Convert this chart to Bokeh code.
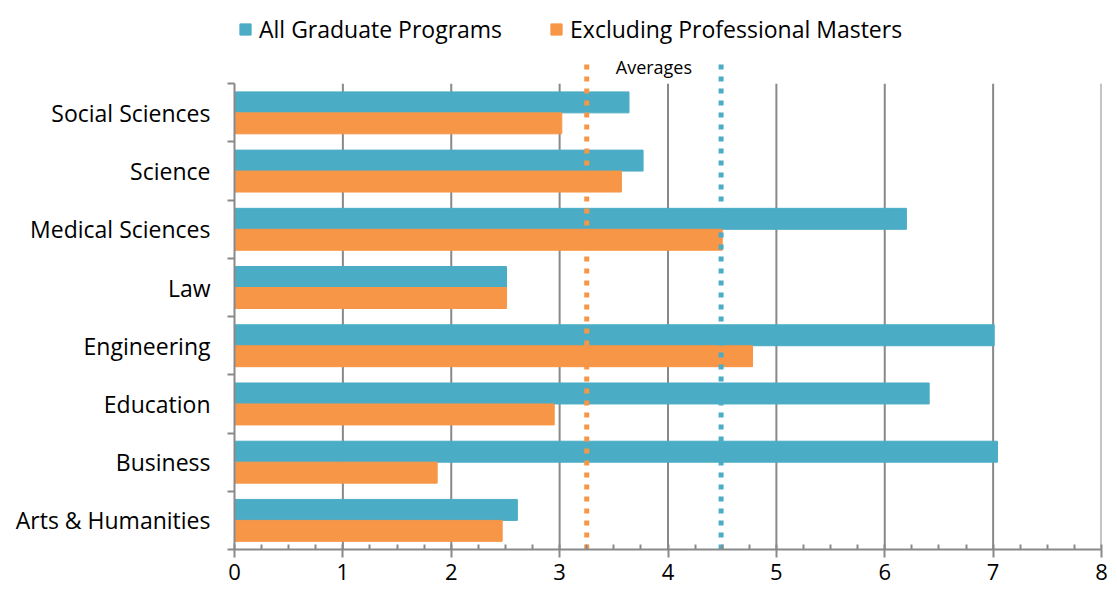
from bokeh.plotting import figure
from bokeh.models import (ColumnDataSource, FixedTicker, Legend, LegendItem, Label, Range1d)
from bokeh.embed import file_html
from bokeh.resources import INLINE

categories = ["Arts & Humanities", "Business", "Education", "Engineering",
              "Law", "Medical Sciences", "Science", "Social Sciences"]
all_graduate = [2.61, 7.04, 6.41, 7.01, 2.51, 6.20, 3.77, 3.64]
excluding_pm = [2.47, 1.87, 2.95, 4.78, 2.51, 4.50, 3.57, 3.02]
avg_all_graduate = 4.49
avg_excluding_pm = 3.25
x_ticks = [0, 1, 2, 3, 4, 5, 6, 7, 8]
series_names = ["All Graduate Programs", "Excluding Professional Masters"]

BLUE = "#4BACC6"
ORANGE = "#F79646"
GRAY = "#898989"
FONT = "Open Sans"

n = len(categories)
centers = [i + 0.5 for i in range(n)]
bar_h = 0.36

src = ColumnDataSource(dict(
    cat=categories,
    yc=centers,
    y_blue=[c + bar_h / 2 for c in centers],
    y_orange=[c - bar_h / 2 for c in centers],
    blue=all_graduate,
    orange=excluding_pm,
))

p = figure(width=1109, height=586, output_backend="svg", toolbar_location=None,
           x_range=Range1d(0, 8), y_range=Range1d(0, 9.43),
           min_border_left=234, min_border_right=8, min_border_top=0,
           min_border_bottom=37)
p.outline_line_color = None
p.xgrid.visible = False
p.ygrid.visible = False
p.background_fill_color = "white"
p.border_fill_color = "white"

# vertical gridlines (behind bars)
grid_x = x_ticks[1:]
p.segment(x0=grid_x, y0=[0] * len(grid_x), x1=grid_x, y1=[n] * len(grid_x),
          line_color=GRAY, line_width=2)

r_blue = p.hbar(y="y_blue", left=0, right="blue", height=bar_h, source=src,
                fill_color=BLUE, line_color=BLUE)
r_orange = p.hbar(y="y_orange", left=0, right="orange", height=bar_h, source=src,
                  fill_color=ORANGE, line_color=ORANGE)

# average lines
avg_top = 8.34
p.line(x=[avg_excluding_pm, avg_excluding_pm], y=[0, avg_top], line_color=ORANGE,
       line_width=5, line_dash="5 7")
p.line(x=[avg_all_graduate, avg_all_graduate], y=[0, avg_top], line_color=BLUE,
       line_width=5, line_dash="5 7")
p.add_layout(Label(x=(avg_all_graduate + avg_excluding_pm) / 2, y=8.29, text="Averages",
                   text_align="center", text_baseline="middle",
                   text_font=FONT, text_font_size="18px", text_color="black"))

# x axis
xa = p.xaxis[0]
xa.ticker = FixedTicker(ticks=x_ticks, minor_ticks=[i * 0.25 for i in range(33)])
xa.axis_line_color = GRAY
xa.axis_line_width = 2
xa.major_tick_line_color = GRAY
xa.major_tick_line_width = 2
xa.major_tick_out = 8
xa.major_tick_in = 0
xa.minor_tick_line_color = GRAY
xa.minor_tick_line_width = 2
xa.minor_tick_in = 5
xa.minor_tick_out = 0
xa.major_label_text_font = FONT
xa.major_label_text_font_size = "22px"
xa.major_label_text_color = "black"
xa.major_label_standoff = 6

# y axis
ya = p.yaxis[0]
ya.ticker = FixedTicker(ticks=centers, minor_ticks=list(range(n + 1)))
ya.major_label_overrides = {c: name for c, name in zip(centers, categories)}
ya.bounds = (0, n)
ya.axis_line_color = GRAY
ya.axis_line_width = 2
ya.major_tick_line_color = None
ya.major_tick_out = 0
ya.major_tick_in = 0
ya.minor_tick_line_color = GRAY
ya.minor_tick_line_width = 2
ya.minor_tick_out = 7
ya.minor_tick_in = 0
ya.major_label_text_font = FONT
ya.major_label_text_font_size = "23px"
ya.major_label_text_color = "black"
ya.major_label_standoff = 17

legend = Legend(items=[LegendItem(label=series_names[0], renderers=[r_blue]),
                       LegendItem(label=series_names[1], renderers=[r_orange])],
                orientation="horizontal", location=(4, 504),
                padding=0, margin=0, spacing=47, label_standoff=7,
                glyph_width=14, glyph_height=14,
                label_text_font=FONT, label_text_font_size="23px",
                label_text_color="black",
                border_line_color=None, background_fill_alpha=0)
p.add_layout(legend, "center")

open("out.html", "w").write(file_html(p, INLINE))
